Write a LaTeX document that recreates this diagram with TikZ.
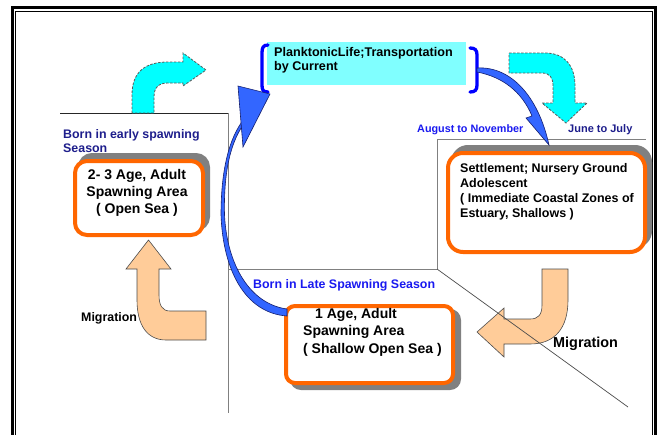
\documentclass[tikz,border=0pt]{standalone}
\usepackage{fontspec}
\setmainfont{Liberation Sans}
\definecolor{cyanA}{RGB}{0,255,255}
\definecolor{cyanL}{RGB}{128,255,255}
\definecolor{peach}{RGB}{255,204,153}
\definecolor{orangeB}{RGB}{255,102,0}
\definecolor{navyT}{RGB}{30,30,140}
\definecolor{blueT}{RGB}{25,25,240}
\definecolor{arrowblue}{RGB}{51,102,255}
\definecolor{arrowline}{RGB}{20,30,110}
\definecolor{shadowgray}{RGB}{128,128,128}
\begin{document}
\begin{tikzpicture}[x=1pt,y=-1pt,
  box/.style={draw=orangeB, line width=4pt, fill=white, inner sep=0pt},
  shadowbox/.style={fill=shadowgray, draw=shadowgray, line width=4pt, inner sep=0pt},
  boxtext/.style={font=\bfseries\fontsize{14}{17}\selectfont, inner sep=0pt, text=black},
  lbl/.style={inner sep=0pt, anchor=west},
  panel/.style={draw=gray, line width=0.9pt},
  cyanarrow/.style={fill=cyanA, draw=black!65, line width=0.8pt, dash pattern=on 2.5pt off 1.5pt},
  peacharrow/.style={fill=peach, draw=black!70, line width=0.6pt},
  bluearrow/.style={fill=arrowblue, draw=arrowline, line width=0.6pt},
]
\useasboundingbox (0,0) rectangle (663,434);
\fill[white] (0,0) rectangle (663,434);
% frame
\draw[line width=3pt] (12.5,445) -- (12.5,7.5) -- (655.5,7.5) -- (655.5,445);
\draw[line width=0.8pt] (15.8,445) -- (15.8,11.5) -- (652,11.5) -- (652,445);
% panels
\draw[panel, draw=black!85] (60,113) -- (228,113);
\draw[panel] (228,113) -- (228,413);
\draw[panel] (228,269) -- (437,269);
\draw[panel] (437,269) -- (437,139) -- (646,139);
% cyan bent arrows
\draw[cyanarrow] (132,113) -- (132,95) .. controls (132,72) and (145,62) .. (168,62) -- (183,62)
  -- (183,53) -- (206,70) -- (183,86) -- (183,83) -- (168,83)
  .. controls (159,83) and (154,87) .. (154,97) -- (154,113) -- cycle;
\draw[cyanarrow] (509,53) -- (545,53) .. controls (565,53) and (575,66) .. (575,86) -- (575,103)
  -- (587,103) -- (566,123) -- (542,103) -- (553,103) -- (553,86)
  .. controls (553,78) and (550,73) .. (542,73) -- (509,73) -- cycle;
% peach migration arrows
\draw[peacharrow] (137,269) -- (126,269) -- (148.5,240) -- (171,269) -- (159,269) -- (159,295)
  .. controls (159,305) and (162,311) .. (170,311) -- (206,311) -- (206,340) -- (166,340)
  .. controls (147,340) and (137,325) .. (137,300) -- cycle;
\draw[peacharrow] (542,269) -- (568,269) -- (568,300) .. controls (568,328) and (555,344) .. (530,344)
  -- (504,344) -- (504,357) -- (477,332) -- (504,308) -- (504,319) -- (530,319)
  .. controls (538,319) and (542,315) .. (542,305) -- cycle;
\draw[panel, draw=black!70, line width=0.7pt] (437,269) -- (628,407);
% top box
\node[fill=cyanL, minimum width=199pt, minimum height=43pt, inner sep=0pt] (tbox) at (366.5,63.5) {};
\draw[blue, line width=3.3pt, line cap=round] (268,45) .. controls (263,45) and (262,48) .. (262,53) -- (262,85) .. controls (262,90) and (263,92) .. (268,92);
\draw[blue, line width=3.3pt, line cap=round] (470,48) .. controls (475,48) and (477,50) .. (477,55) -- (477,85) .. controls (477,90) and (475,92) .. (470,92);
\node[font=\bfseries\fontsize{12.6}{14}\selectfont, align=left, anchor=west, inner sep=0pt] (ttext) at (274,60) {PlanktonicLife;Transportation\\by Current};
% left box
\node[shadowbox, rounded corners=12pt, minimum width=128pt, minimum height=74pt] (lsh) at (144,192) {};
\node[box, rounded corners=12pt, minimum width=128pt, minimum height=74pt] (lbox) at (139,198) {};
\node[boxtext, align=center] (ltext) at (137,193) {2- 3 Age, Adult\\Spawning Area\\( Open Sea )};
% right box
\node[shadowbox, rounded corners=15pt, minimum width=197pt, minimum height=99pt] (rsh) at (551.5,196.5) {};
\node[box, rounded corners=15pt, minimum width=197pt, minimum height=99pt] (rbox) at (546.5,202.5) {};
\node[font=\bfseries\fontsize{12.5}{15}\selectfont, align=left, anchor=west, inner sep=0pt] (rtext) at (460,191.5) {Settlement; Nursery Ground\\Adolescent\\( Immediate Coastal Zones of\\Estuary, Shallows )};
% bottom box
\node[shadowbox, rounded corners=9pt, minimum width=167pt, minimum height=77pt] (bsh) at (375.5,349.5) {};
\node[box, rounded corners=9pt, minimum width=167pt, minimum height=77pt] (bbox) at (369.5,344.5) {};
\node[boxtext, align=left, anchor=west, font=\bfseries\fontsize{14}{17.5}\selectfont] (btext) at (303,332) {\hspace*{12pt}1 Age, Adult\\Spawning Area\\( Shallow Open Sea )};
% blue curved arrows
\draw[bluearrow] (287,309) .. controls (250,304) and (227,265) .. (224.5,215) .. controls (223.5,170) and (231,140) .. (246,121)
  -- (244,119) .. controls (229,138) and (221,170) .. (221,215) .. controls (223,270) and (245,313) .. (287,316) -- cycle;
\draw[bluearrow] (238,86) -- (270,94) -- (243,147) -- cycle;
\draw[bluearrow] (477,68) .. controls (510,66) and (538,95) .. (549,145) -- (526,118) -- (532,116)
  .. controls (522,92) and (503,77) .. (477,72) -- cycle;
% labels
\node[lbl, text=navyT, font=\bfseries\fontsize{12.4}{14}\selectfont, align=left] (early) at (63,141) {Born in early spawning\\Season};
\node[lbl, text=blueT, font=\bfseries\fontsize{10.8}{13}\selectfont] (aug) at (417,130) {August to November};
\node[lbl, text=navyT, font=\bfseries\fontsize{11}{13}\selectfont] (june) at (568,130) {June to July};
\node[lbl, text=blueT, font=\bfseries\fontsize{12.4}{14}\selectfont] (late) at (253,285) {Born in Late Spawning Season};
\node[lbl, font=\bfseries\fontsize{12.4}{14}\selectfont] (mig1) at (81,318) {Migration};
\node[lbl, font=\bfseries\fontsize{14.4}{16}\selectfont] (mig2) at (553,344) {Migration};
\end{tikzpicture}
\end{document}
